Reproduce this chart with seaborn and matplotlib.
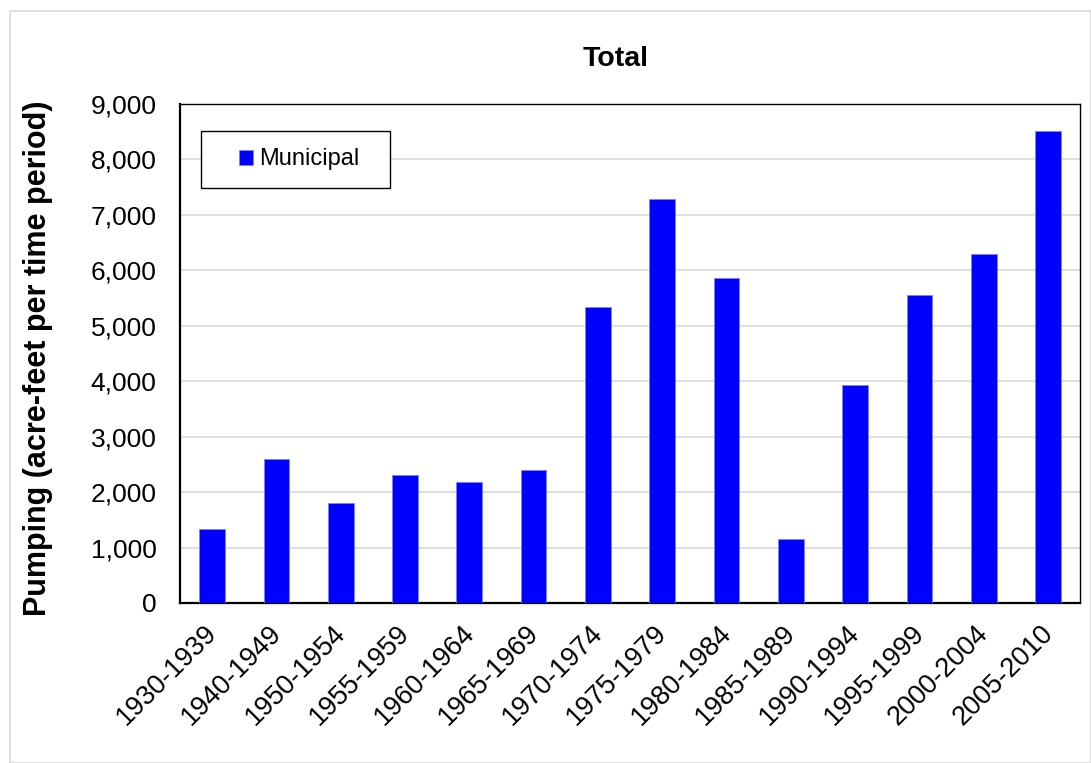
import pandas as pd
import numpy as np
import matplotlib
matplotlib.use("Agg")
import matplotlib.pyplot as plt
import matplotlib.transforms as mtransforms
import seaborn as sns
from matplotlib.patches import Rectangle
from matplotlib.ticker import FuncFormatter

periods = ["1930-1939", "1940-1949", "1950-1954", "1955-1959", "1960-1964",
           "1965-1969", "1970-1974", "1975-1979", "1980-1984", "1985-1989",
           "1990-1994", "1995-1999", "2000-2004", "2005-2010"]
municipal = [1340, 2600, 1810, 2310, 2190, 2400, 5330, 7290, 5870, 1160,
             3940, 5550, 6300, 8510]

sns.set_style("white")
plt.rcParams["font.family"] = ["Liberation Sans", "DejaVu Sans"]
plt.rcParams["text.color"] = "black"
plt.rcParams["xtick.color"] = "black"
plt.rcParams["ytick.color"] = "black"
plt.rcParams["axes.labelcolor"] = "black"

df = pd.DataFrame({"Period": periods, "Pumping": municipal})

fig = plt.figure(figsize=(10.91, 7.63), dpi=100)
ax = fig.add_axes([0.165, 0.2097, 0.825, 0.654])

# light border around whole chart
fig.patches.append(Rectangle((10 / 1091, 0), 1 - 10 / 1091, 1 - 11 / 763,
                             transform=fig.transFigure, fill=False,
                             edgecolor="#d9d9d9", linewidth=1.2))

sns.barplot(data=df, x="Period", y="Pumping", color="#0000ff", width=0.4,
            saturation=1, edgecolor="#8080ff", linewidth=0.6,
            label="Municipal", ax=ax, zorder=3)

ax.set_ylim(0, 9000)
ax.set_yticks(np.arange(0, 9001, 1000))
ax.yaxis.set_major_formatter(FuncFormatter(lambda v, p: f"{int(v):,}"))
ax.grid(axis="y", color="#d9d9d9", linewidth=1.2, zorder=0)
ax.set_axisbelow(True)

for s in ax.spines.values():
    s.set_color("black")
    s.set_linewidth(1.0)
ax.spines["left"].set_linewidth(1.6)
ax.spines["bottom"].set_linewidth(1.6)

ax.tick_params(axis="y", labelsize=19, length=0, pad=17)
ax.tick_params(axis="x", labelsize=19.5, length=0, pad=19)
shift = mtransforms.ScaledTranslation(1 / 100, 0, fig.dpi_scale_trans)
for lab in ax.get_xticklabels():
    lab.set_rotation(45)
    lab.set_ha("right")
    lab.set_va("center")
    lab.set_rotation_mode("anchor")
    lab.set_transform(lab.get_transform() + shift)

ax.set_xlabel("")
ax.set_ylabel("")
fig.text(38 / 1091, 1 - 358 / 763, "Pumping (acre-feet per time period)",
         rotation=90, ha="center", va="center", fontsize=22,
         fontweight="bold")
fig.text(616 / 1091, 1 - 59 / 763, "Total", ha="center", va="center",
         fontsize=20.5, fontweight="bold")

# legend with a separately drawn box
ax.add_patch(Rectangle((0.0233, 0.8317), 0.21, 0.1142,
                       transform=ax.transAxes, facecolor="white",
                       edgecolor="black", linewidth=1.0, zorder=5))
leg = ax.legend(loc="center left", bbox_to_anchor=(0.0656, 0.8888),
                fontsize=17, frameon=False, handlelength=0.6,
                handleheight=0.6, handletextpad=0.25, borderpad=0,
                borderaxespad=0)
leg.set_zorder(6)

fig.savefig("out.png", dpi=100)
